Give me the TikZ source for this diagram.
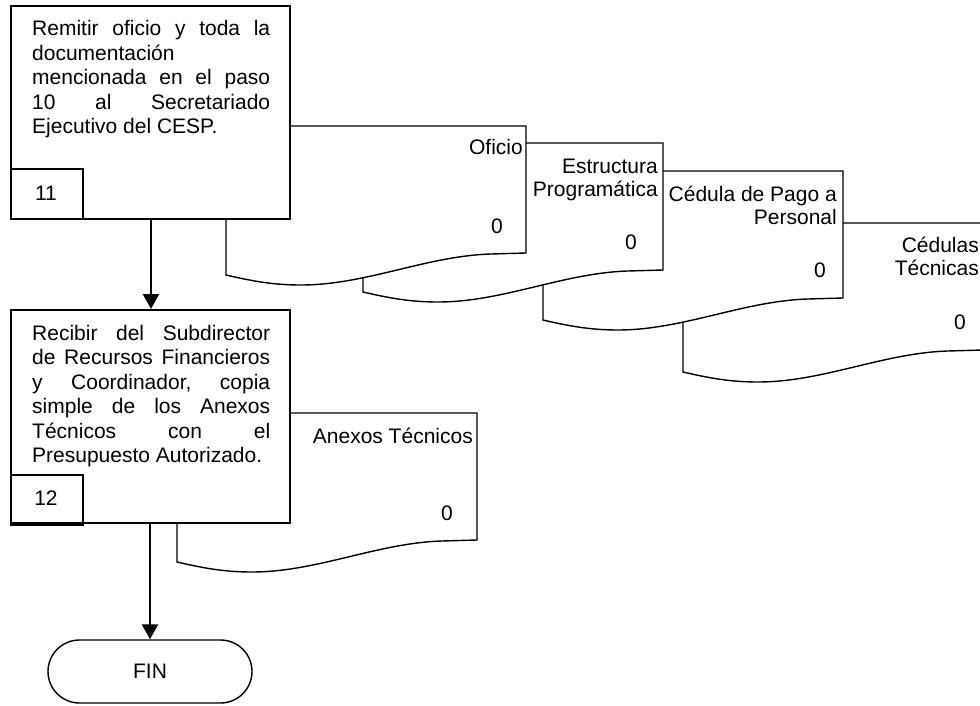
\documentclass[tikz,border=0pt]{standalone}
\usepackage{fontspec}
\setmainfont{Liberation Sans}
\usetikzlibrary{arrows.meta}

\begin{document}
\begin{tikzpicture}[x=1pt,y=-1pt,
  every node/.style={font=\fontsize{21}{23.5}\selectfont},
  stepbox/.style={draw,line width=1.8pt,fill=white,minimum width=279pt,minimum height=213pt,anchor=north west,inner sep=0pt},
  numbox/.style={draw,line width=1.8pt,minimum width=72pt,minimum height=50pt,anchor=north west,inner sep=0pt},
  steptext/.style={anchor=base west,inner sep=0pt},
  doclabel/.style={anchor=base east,inner sep=0pt},
  doccount/.style={anchor=center,inner sep=0pt},
  flow/.style={line width=2.4pt,-{Triangle[length=15pt,width=16pt]}},
  endbox/.style={draw,line width=1.4pt,rounded corners=31.5pt,minimum width=204pt,minimum height=63pt,inner sep=0pt},
  docsheet/.pic={
    \draw[line width=1.4pt,fill=white]
      (0,0) -- (300,0) -- (300,127) -- (265,128)
      .. controls (200,130) and (140,159) .. (75,159)
      .. controls (50,159) and (30,156) .. (0,149) -- cycle;
  }]
\newcommand{\steppar}[1]{\parbox[t]{238pt}{\fontsize{21}{24.5}\selectfont #1}}
\newcommand{\rlines}[1]{\begin{tabular}[t]{@{}r@{}}#1\end{tabular}}

\useasboundingbox (0,0) rectangle (980,706);

% documents of step 11, back to front
\pic at (683,223) {docsheet};
\pic at (543,171) {docsheet};
\pic at (363,143) {docsheet};
\pic at (226,126) {docsheet};

\node[doclabel] (d4) at (979,252) {\rlines{Cédulas\\Técnicas}};
\node[doccount] (d4n) at (960,322) {0};
\node[doclabel] (d3) at (837,201) {\rlines{Cédula de Pago a\\Personal}};
\node[doccount] (d3n) at (820,270) {0};
\node[doclabel] (d2) at (658,173) {\rlines{Estructura\\Programática}};
\node[doccount] (d2n) at (631,242) {0};
\node[doclabel] (d1) at (523,155) {Oficio};
\node[doccount] (d1n) at (497,226) {0};

% step 11
\node[stepbox] (s11) at (10,5) {};
\node[steptext] (s11t) at (32,36) {\steppar{%
  Remitir\hfill oficio\hfill y\hfill toda\hfill la\\
  documentación\\
  mencionada\hfill en\hfill el\hfill paso\\
  10\hfill al\hfill Secretariado\\
  Ejecutivo del CESP.}};
\node[numbox] (n11) at (10,168) {};
\node (n11t) at (46,193) {11};

% document of step 12
\pic at (177,413) {docsheet};
\node[doclabel] (d5) at (473,443) {Anexos Técnicos};
\node[doccount] (d5n) at (447,513) {0};

% step 12
\node[stepbox] (s12) at (10,309) {};
\node[steptext] (s12t) at (32,340) {\steppar{%
  Recibir\hfill del\hfill Subdirector\\
  de\hfill Recursos\hfill Financieros\\
  y\hfill Coordinador,\hfill copia\\
  simple\hfill de\hfill los\hfill Anexos\\
  Técnicos\hfill con\hfill el\\
  Presupuesto Autorizado.}};
\node[numbox] (n12) at (10,474) {};
\node (n12t) at (46,498) {12};

% end
\node[endbox] (fin) at (150,671.5) {FIN};

% flow
\coordinate (a1) at (151,218);
\coordinate (a2) at (151,309);
\draw[flow] (a1) -- (a2);
\coordinate (b1) at (150,523);
\draw[flow] (b1) -- (fin.north -| b1);
\end{tikzpicture}
\end{document}
